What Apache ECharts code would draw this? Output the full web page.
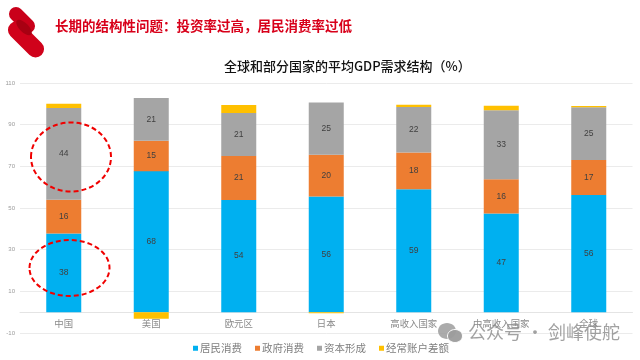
<!DOCTYPE html>
<html><head><meta charset="utf-8">
<style>html,body{margin:0;padding:0;background:#fff}#c{width:640px;height:360px}</style>
<script src="https://cdn.jsdelivr.net/npm/echarts@6/dist/echarts.min.js"></script>
</head><body><div id="c"></div>
<script>
const categories = ['中国','美国','欧元区','日本','高收入国家','中高收入国家','全球'];
const household  = [37.8,67.7,53.9,55.5,59,47.4,56.3];
const government = [16.2,14.6,21.1,20.1,17.6,16.4,16.7];
const capital    = [44,20.5,20.6,25.1,21.9,33.1,25.4];
const account    = [2,-3.1,3.9,-0.5,1.1,2.2,0.6];
const tickValues = [-10,10,30,50,70,90,110];
const seriesNames = ['居民消费','政府消费','资本形成','经常账户差额'];
const FONT = '"Noto Sans CJK SC","Noto Sans",sans-serif';
const chart = echarts.init(document.getElementById('c'), null, {renderer:'canvas'});
const lab = {show:true,position:'inside',fontSize:8.5,color:'#404040',fontFamily:'Liberation Sans',
  formatter:p=>Math.round(p.value)};
function bar(name,data,color,label){
  return {name,type:'bar',stack:'a',data,barWidth:35,itemStyle:{color},label:label?lab:{show:false},z:3};
}
chart.setOption({
  animation:false,
  backgroundColor:'#fff',
  textStyle:{fontFamily:FONT},
  grid:{left:20,right:7.5,top:83,bottom:27},
  legend:{left:188,top:338,itemWidth:5,itemHeight:5,itemGap:13,icon:'rect',
    data:seriesNames,textStyle:{fontSize:10.5,color:'#7f7f7f',fontFamily:FONT,padding:[0,0,0,-3]}},
  xAxis:{type:'category',data:categories,
    axisLine:{onZero:true,lineStyle:{color:'#e4e4e4',width:1}},axisTick:{show:false},
    axisLabel:{fontSize:9.4,color:'#8a8a8a',margin:-14,interval:0,fontFamily:FONT}},
  yAxis:{type:'value',min:-10,max:110,
    axisLine:{show:false},
    axisTick:{show:false,customValues:tickValues},
    axisLabel:{customValues:tickValues,fontSize:6,color:'#9a9a9a',margin:5,fontFamily:'Liberation Sans'},
    splitLine:{show:true,lineStyle:{color:'#ebebeb',width:1}}},
  series:[
    bar(seriesNames[0],household,'#00b0f0',true),
    bar(seriesNames[1],government,'#ed7d31',true),
    bar(seriesNames[2],capital,'#a5a5a5',true),
    bar(seriesNames[3],account,'#ffc000',false)
  ],
  graphic:[
    {type:'rect',shape:{x:-15.5,y:-7,width:31,height:14,r:7},rotation:-Math.PI/4,x:22,y:20,style:{fill:'#c9001a'},z:10},
    {type:'rect',shape:{x:-22,y:-8.5,width:44,height:17,r:8.5},rotation:-Math.PI/4,x:26,y:39.5,style:{fill:'#d0021b'},z:11},
    {type:'ellipse',shape:{cx:0,cy:0,rx:10,ry:4.5},rotation:-Math.PI/4,x:24,y:27.5,style:{fill:'#a80012'},z:12},
    {type:'text',left:55,top:19,style:{text:'长期的结构性问题：投资率过高，居民消费率过低',fill:'#d8001a',fontSize:13.5,fontWeight:'bold',fontFamily:FONT},z:10},
    {type:'text',left:224,top:60,style:{text:'全球和部分国家的平均GDP需求结构（%）',fill:'#111',fontSize:13,fontWeight:'500',fontFamily:FONT},z:10},
    {type:'ellipse',shape:{cx:71,cy:157,rx:40,ry:34.5},style:{fill:'none',stroke:'#f00000',lineWidth:2,lineDash:[5,3]},z:20},
    {type:'ellipse',shape:{cx:69.5,cy:268,rx:40,ry:28},style:{fill:'none',stroke:'#f00000',lineWidth:2,lineDash:[5,3]},z:20},
    {type:'ellipse',shape:{cx:447,cy:331,rx:9,ry:8},style:{fill:'#9c9c9c',opacity:.85},z:20},
    {type:'ellipse',shape:{cx:455,cy:336,rx:7.5,ry:6.5},style:{fill:'#9c9c9c',stroke:'#fff',lineWidth:1,opacity:.95},z:21},
    {type:'text',left:468,top:323,style:{text:'公众号 · 剑峰使舵',fill:'#8a8a8a',opacity:.8,fontSize:18,fontFamily:FONT},z:20}
  ]
});
</script></body></html>
